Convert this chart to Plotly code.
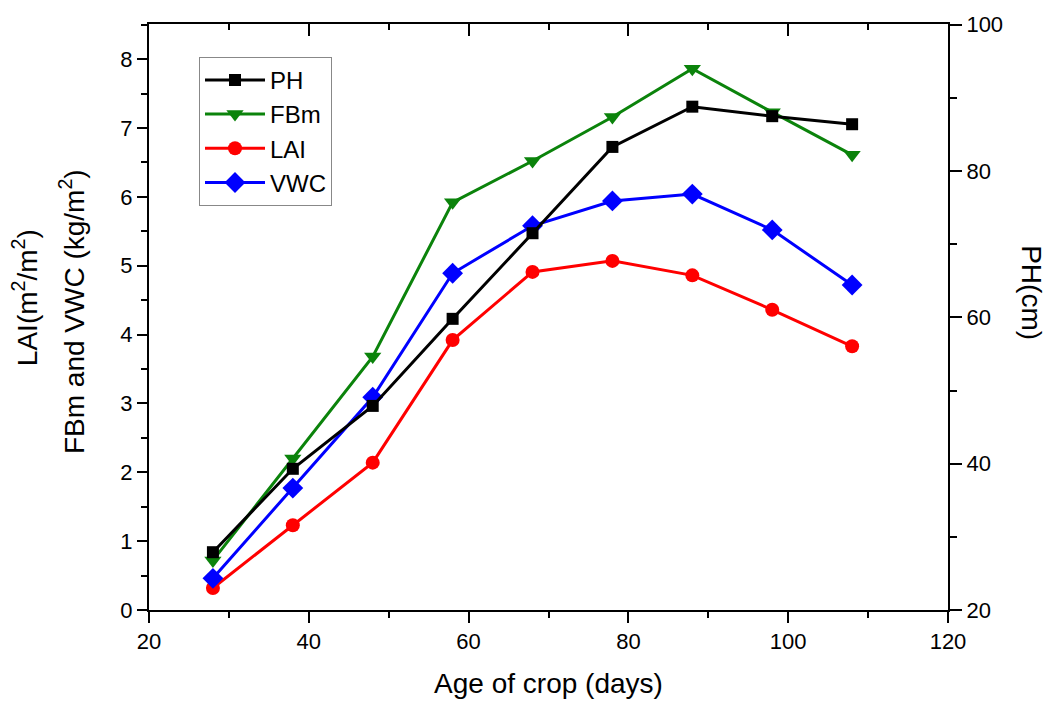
import plotly.graph_objects as go

days = [28, 38, 48, 58, 68, 78, 88, 98, 108]
ph = [27.9, 39.3, 47.9, 59.8, 71.5, 83.3, 88.8, 87.5, 86.4]
fbm = [0.72, 2.20, 3.68, 5.92, 6.52, 7.16, 7.86, 7.23, 6.61]
lai = [0.32, 1.23, 2.14, 3.92, 4.91, 5.07, 4.86, 4.36, 3.83]
vwc = [0.46, 1.77, 3.09, 4.89, 5.58, 5.94, 6.04, 5.52, 4.72]

FONT = "Liberation Sans, Arial, sans-serif"
W, H = 1048, 706
L, R, T, B = 149, 100, 20, 96
pw, ph_ = W - L - R, H - T - B

def px_x(p):
    return (p - L) / pw

def px_y(p):
    return (H - B - p) / ph_

fig = go.Figure()
series = [
    ("PH", ph, "#000000", "square", 12, "y2"),
    ("FBm", fbm, "#0b830b", "triangle-down", 15, "y"),
    ("LAI", lai, "#ff0000", "circle", 14, "y"),
    ("VWC", vwc, "#0000ff", "diamond", 16, "y"),
]
for name, vals, col, sym, size, yax in series:
    fig.add_trace(go.Scatter(
        x=days, y=vals, name=name, mode="lines+markers", yaxis=yax,
        line=dict(color=col, width=3),
        marker=dict(symbol=sym, size=size, color=col),
        legendgroup=name,
    ))
# anchor trace for the mirrored top axis
fig.add_trace(go.Scatter(x=[None], y=[None], xaxis="x2", yaxis="y",
                         showlegend=False, hoverinfo="skip"))

axis_common = dict(showgrid=False, zeroline=False, showline=True,
                   linecolor="black", linewidth=2, tickcolor="black",
                   tickwidth=2, tickfont=dict(family=FONT, size=22, color="black"))

fig.update_layout(
    width=W, height=H,
    margin=dict(l=L, r=R, t=T, b=B),
    paper_bgcolor="white", plot_bgcolor="white",
    font=dict(family=FONT, color="black"),
    showlegend=True,
    legend=dict(x=px_x(199), y=px_y(53), xanchor="left", yanchor="top",
                bordercolor="#888888", borderwidth=1, bgcolor="white",
                font=dict(family=FONT, size=24, color="black"),
                tracegroupgap=0, itemwidth=60),
    xaxis=dict(range=[20, 120], tickmode="linear", tick0=20, dtick=20,
               ticks="outside", ticklen=11,
               minor=dict(dtick=10, tick0=20, ticks="outside", ticklen=6,
                          tickwidth=2, tickcolor="black"),
               title=dict(text="Age of crop (days)",
                          font=dict(family=FONT, size=28, color="black"),
                          standoff=20),
               **axis_common),
    xaxis2=dict(range=[20, 120], overlaying="x", side="top", anchor="y",
                tickmode="linear", tick0=20, dtick=20, ticks="inside",
                ticklen=12, showticklabels=False,
                minor=dict(dtick=10, tick0=20, ticks="inside", ticklen=6,
                           tickwidth=2, tickcolor="black"),
                **axis_common),
    yaxis=dict(range=[0, 8.51], tickmode="linear", tick0=0, dtick=1,
               ticks="outside", ticklen=10,
               minor=dict(dtick=0.5, tick0=0, ticks="outside", ticklen=6,
                          tickwidth=2, tickcolor="black"),
               **axis_common),
    yaxis2=dict(range=[20, 100.1], overlaying="y", side="right", anchor="x",
                tickmode="linear", tick0=20, dtick=20,
                ticks="outside", ticklen=12,
                minor=dict(dtick=10, tick0=20, ticks="outside", ticklen=7,
                           tickwidth=2, tickcolor="black"),
                **axis_common),
)

ann_font = dict(family=FONT, size=28, color="black")
fig.add_annotation(text="LAI(m<sup>2</sup>/m<sup>2</sup>)", textangle=-90,
                   xref="paper", yref="paper", x=px_x(25), y=px_y(296),
                   xanchor="center", yanchor="middle", showarrow=False,
                   font=ann_font)
fig.add_annotation(text="FBm and VWC (kg/m<sup>2</sup>)", textangle=-90,
                   xref="paper", yref="paper", x=px_x(72), y=px_y(310),
                   xanchor="center", yanchor="middle", showarrow=False,
                   font=ann_font)
fig.add_annotation(text="PH(cm)", textangle=90,
                   xref="paper", yref="paper", x=px_x(1032), y=px_y(290),
                   xanchor="center", yanchor="middle", showarrow=False,
                   font=ann_font)

fig.write_html("out.html")
